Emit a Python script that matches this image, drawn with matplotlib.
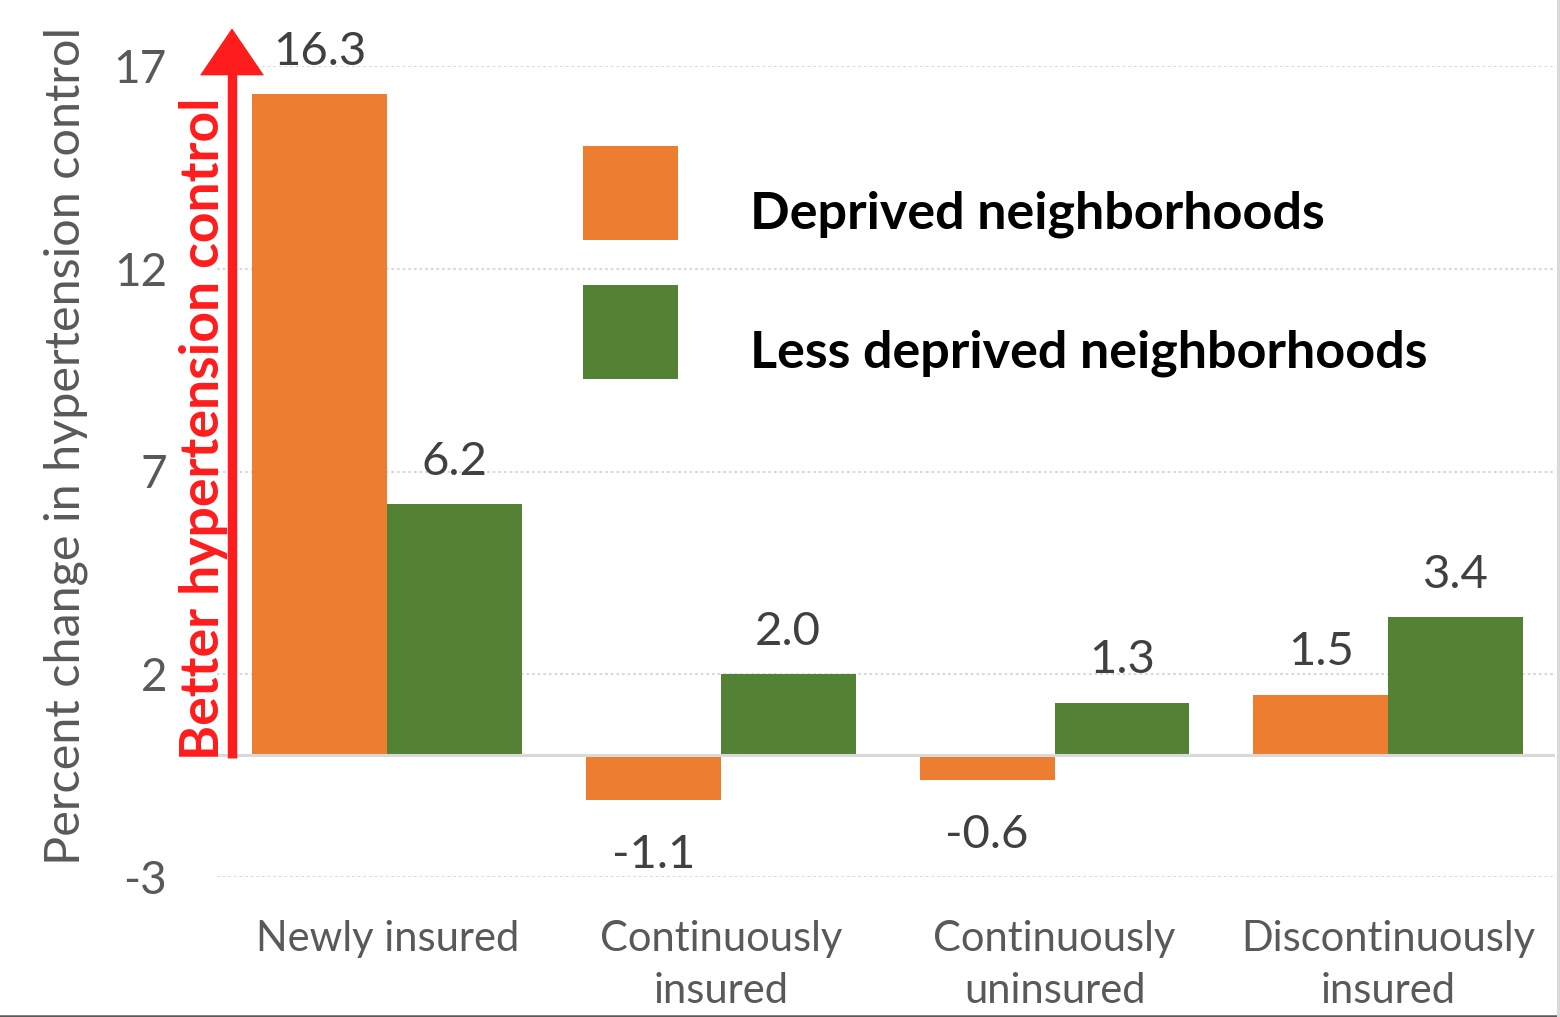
import matplotlib
matplotlib.use("Agg")
import matplotlib.pyplot as plt
from matplotlib.patches import Rectangle, Polygon
from matplotlib.lines import Line2D
import numpy as np

# ---------------- data ----------------
categories = ["Newly insured", "Continuously\ninsured", "Continuously\nuninsured", "Discontinuously\ninsured"]
series_names = ["Deprived neighborhoods", "Less deprived neighborhoods"]
deprived = [16.3, -1.1, -0.6, 1.5]
less_deprived = [6.2, 2.0, 1.3, 3.4]
yticks = [-3, 2, 7, 12, 17]
ylabel_text = "Percent change in hypertension control"
arrow_text = "Better hypertension control"

# ---------------- style ----------------
colors = ["#ED7D31", "#548235"]
RED = "#FF1C1C"
GRID = "#D9D9D9"
TXT = "#595959"
plt.rcParams["font.family"] = ["Lato", "DejaVu Sans"]
plt.rcParams["axes.unicode_minus"] = False

W, H = 1560, 1017
fig = plt.figure(figsize=(W / 100, H / 100), dpi=100)
fx = lambda px: px / W
fy = lambda py: 1 - py / H

ax = fig.add_axes([fx(217), fy(877), 1338 / W, 811 / H])
x = np.arange(len(categories))
bw = 0.404
b1 = ax.bar(x - bw / 2, deprived, bw, color=colors[0], zorder=2, label=series_names[0])
b2 = ax.bar(x + bw / 2, less_deprived, bw, color=colors[1], zorder=2, label=series_names[1])
ax.set_xlim(-0.51, 3.5)
ax.set_ylim(-3, 17)
ax.set_yticks(yticks)
ax.set_xticks(x)
ax.set_xticklabels(categories, fontsize=30, color=TXT, linespacing=1.45)
ax.grid(axis="y", color=GRID, lw=1.5, ls=(0, (1.3, 1.4)), zorder=0)
ax.axhline(0, color=GRID, lw=2.2, zorder=3)
for s in ax.spines.values():
    s.set_visible(False)
ax.tick_params(length=0)
ax.tick_params(axis="y", pad=36, labelsize=33, labelcolor=TXT)
ax.tick_params(axis="x", pad=31)

# data labels
for bars, vals in [(b1, deprived), (b2, less_deprived)]:
    for rect, v in zip(bars, vals):
        cx = rect.get_x() + rect.get_width() / 2
        off = 21 if v >= 0 else -49
        ax.annotate(f"{v:.1f}", (cx, v), xytext=(0, off), textcoords="offset points",
                    ha="center", va="baseline", fontsize=34, color="#404040")

# y label
ax.set_ylabel(ylabel_text, fontsize=35, color=TXT, rotation=90, rotation_mode="anchor",
              ha="left", va="baseline")
ax.yaxis.set_label_coords((80 - 217) / 1338, (877 - 865) / 811)

# red arrow
xa = -0.51 + (232 - 217) / 333.7
ax.plot([xa, xa], [-0.07, 16.8], color=RED, lw=6.8, solid_capstyle="butt", clip_on=False, zorder=4)
hw = 32 / 333.7
ax.add_patch(Polygon([(xa - hw, 16.77), (xa + hw, 16.77), (xa, 17.93)], closed=True,
                     facecolor=RED, edgecolor="none", clip_on=False, zorder=4))
ax.text(-0.51 + 2 / 333.7, -0.12, arrow_text, rotation=90, rotation_mode="anchor",
        ha="left", va="baseline", fontsize=38.5, fontweight="bold", color=RED, zorder=5)

# legend (manual)
leg_rows = [(146, 229), (285, 368)]
for (top, base), c, name in zip(leg_rows, colors, series_names):
    fig.add_artist(Rectangle((fx(583), fy(top + 94)), 95 / W, 94 / H, transform=fig.transFigure,
                             facecolor=c, edgecolor="none"))
    fig.text(fx(750), fy(base), name, ha="left", va="baseline", fontsize=37.5,
             fontweight="bold", color="black")

# borders
fig.add_artist(Line2D([0, 1], [fy(1015.7)] * 2, transform=fig.transFigure, color="#595959", lw=1.8))
fig.add_artist(Line2D([fx(1557.8)] * 2, [0, 1], transform=fig.transFigure, color=GRID, lw=2.2))

fig.savefig("out.png", dpi=100)
